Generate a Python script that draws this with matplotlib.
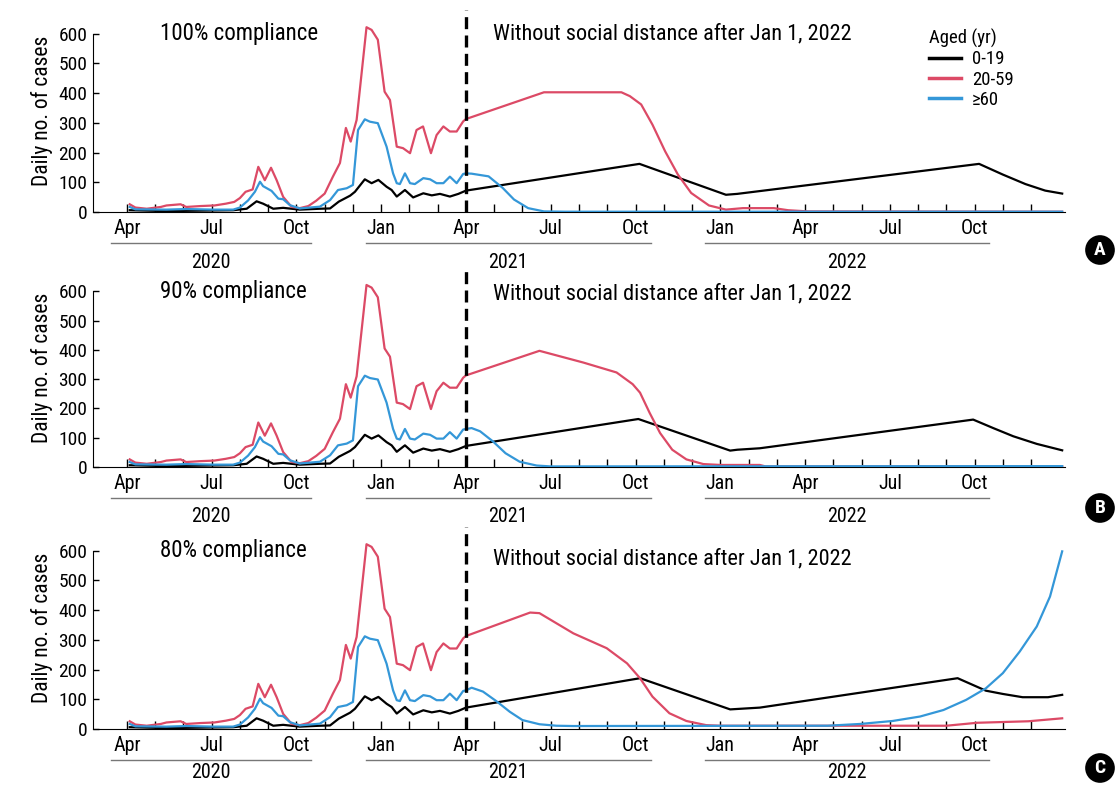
import matplotlib
matplotlib.use('Agg')
import matplotlib.pyplot as plt
import matplotlib.transforms as mtransforms
from matplotlib.lines import Line2D
from matplotlib import font_manager

# pick a condensed face if one is installed
fonts = font_manager.fontManager.ttflist
names = {f.name for f in fonts}
stretch = 'normal'
if 'Liberation Sans Narrow' in names:
    fam = 'Liberation Sans Narrow'
elif 'Roboto Condensed' in names:
    fam = 'Roboto Condensed'
elif any(f.name == 'DejaVu Sans' and f.stretch == 'condensed' for f in fonts):
    fam = 'DejaVu Sans'
    stretch = 'condensed'
else:
    fam = 'Liberation Sans'
plt.rcParams['font.family'] = [fam, 'DejaVu Sans']
plt.rcParams['font.stretch'] = stretch

# x = months since Jan 1, 2020 (Apr 2020 = 3)
# ---- observed period (same in all panels), up to Apr 2021
hist_adult_m = [3.1, 3.3, 3.7, 4.2, 4.4, 4.9, 5.1, 5.6, 6.1, 6.5, 6.8, 7.0, 7.2, 7.45, 7.65,
                7.88, 8.1, 8.3, 8.53, 8.83, 9.12, 9.42, 9.7, 10.0, 10.29, 10.54, 10.75, 10.92,
                11.13, 11.48, 11.66, 11.88, 12.12, 12.31, 12.55, 12.77, 13.02, 13.25, 13.48,
                13.76, 13.96, 14.2, 14.43, 14.67, 14.9, 15.0]
hist_adult = [26, 15, 11, 17, 22, 26, 17, 20, 22, 28, 34, 47, 68, 76, 152,
              107, 149, 107, 51, 17, 13, 20, 38, 62, 119, 165, 283, 237,
              310, 622, 613, 580, 405, 377, 220, 215, 198, 276, 288,
              198, 259, 288, 271, 271, 305, 313]

hist_old_m = [3.1, 3.3, 4.4, 5.1, 6.06, 6.76, 7.0, 7.29, 7.53, 7.71, 7.82, 8.12, 8.36, 8.53,
              8.77, 9.12, 9.83, 10.19, 10.47, 10.78, 11.0, 11.18, 11.42, 11.6, 11.88, 12.19,
              12.42, 12.55, 12.66, 12.84, 13.02, 13.19, 13.49, 13.73, 13.96, 14.2, 14.43,
              14.67, 14.9, 15.0]
hist_old = [17, 9, 8, 10, 8, 8, 15, 39, 68, 102, 87, 71, 45, 43,
            23, 12, 18, 40, 74, 80, 91, 276, 312, 304, 299, 220,
            130, 97, 94, 130, 97, 94, 114, 110, 97, 97, 119,
            97, 128, 130]

hist_young_m = [3.1, 4.4, 6.76, 7.24, 7.59, 7.82, 8.18, 8.53, 9.12, 9.83, 10.19, 10.5, 10.9,
                11.07, 11.42, 11.66, 11.9, 12.19, 12.37, 12.55, 12.84, 13.13, 13.49, 13.79,
                14.08, 14.43, 14.73, 15.0]
hist_young = [6, 3, 6, 11, 36, 28, 11, 14, 8, 11, 12, 35, 55,
              68, 110, 97, 108, 85, 74, 52, 74, 49, 63, 56,
              61, 52, 61, 72]

# ---- projections after Apr 2021, one set per compliance scenario
a_young_m = [15.0, 21.14, 24.2, 24.6, 33.16, 34.0, 34.8, 35.5, 36.1]
a_young = [72, 162, 58, 61, 162, 126, 94, 72, 62]
a_adult_m = [15.0, 17.76, 20.5, 20.8, 21.2, 21.6, 22.05, 22.5, 22.97, 23.6, 24.2, 24.8,
             25.9, 26.4, 27.1, 36.1]
a_adult = [313, 403, 403, 390, 362, 294, 204, 126, 64, 22, 8, 13, 13, 6, 2, 1]
a_old_m = [15.0, 15.2, 15.8, 16.3, 16.7, 17.2, 17.76, 18.5, 36.1]
a_old = [130, 129, 120, 81, 42, 13, 2, 1, 1]

b_young_m = [15.0, 21.1, 24.35, 24.6, 25.4, 32.95, 33.66, 34.37, 35.2, 36.1]
b_young = [72, 164, 56, 59, 64, 162, 133, 105, 79, 57]
b_adult_m = [15.0, 17.6, 19.15, 20.33, 20.9, 21.16, 21.5, 21.87, 22.3, 22.8, 23.4, 24.0,
             25.4, 25.6, 36.1]
b_adult = [313, 397, 357, 323, 283, 254, 185, 116, 59, 26, 10, 7, 7, 2, 2]
b_old_m = [15.0, 15.2, 15.5, 15.96, 16.4, 16.9, 17.5, 18.0, 36.1]
b_old = [130, 133, 122, 87, 47, 18, 5, 2, 3]

c_young_m = [15.0, 21.16, 24.35, 25.4, 32.4, 33.4, 34.0, 34.7, 35.6, 36.1]
c_young = [72, 171, 66, 72, 171, 129, 118, 107, 107, 115]
c_adult_m = [15.0, 17.27, 17.6, 18.8, 19.98, 20.7, 21.16, 21.6, 22.2, 22.8, 23.5, 24.0,
             32.0, 33.1, 34.9, 36.1]
c_adult = [313, 392, 390, 322, 272, 221, 171, 109, 53, 27, 13, 11, 11, 21, 26, 36]
c_old_m = [15.0, 15.2, 15.6, 16.1, 16.55, 17.0, 17.6, 18.2, 18.8, 27.8, 28.95, 30.1,
           31.07, 31.9, 32.7, 33.4, 34.0, 34.6, 35.2, 35.67, 36.1]
c_old = [130, 139, 126, 92, 58, 30, 16, 11, 10, 11, 17, 27,
         42, 64, 98, 137, 188, 261, 345, 446, 598]

scenarios = ['100% compliance', '90% compliance', '80% compliance']
panel_letters = ['A', 'B', 'C']
note = 'Without social distance after Jan 1, 2022'
age_groups = ['0-19', '20-59', '\u226560']
month_ticks = list(range(3, 36))
label_ticks = list(range(3, 34, 3))
label_names = ['Apr', 'Jul', 'Oct', 'Jan'] * 2 + ['Apr', 'Jul', 'Oct']
years = ['2020', '2021', '2022']
year_spans = [(2.45, 9.5), (11.45, 21.55), (23.45, 33.5)]

c_young_col = 'black'
c_adult_col = '#dc4a66'
c_old_col = '#3497d8'

proj = [(a_young_m, a_young, a_adult_m, a_adult, a_old_m, a_old),
        (b_young_m, b_young, b_adult_m, b_adult, b_old_m, b_old),
        (c_young_m, c_young, c_adult_m, c_adult, c_old_m, c_old)]

fig = plt.figure(figsize=(11.15, 7.86), dpi=100)
W, H = 1115, 786
# (top px, bottom px) of each panel
boxes = [(10, 212), (268, 467), (527, 729)]
note_y = [598, 593, 572]
letter_y = [250, 508, 768]
year_off = [-50, -50, -44]

for i in range(3):
    top, bot = boxes[i]
    ax = fig.add_axes([93 / W, 1 - bot / H, 972 / W, (bot - top) / H])
    ym, yv, am, av, om, ov = proj[i]

    ax.plot(hist_young_m + ym[1:], hist_young + yv[1:], color=c_young_col, lw=1.6, zorder=3)
    ax.plot(hist_adult_m + am[1:], hist_adult + av[1:], color=c_adult_col, lw=1.6, zorder=3)
    ax.plot(hist_old_m + om[1:], hist_old + ov[1:], color=c_old_col, lw=1.6, zorder=4)

    ax.axvline(15, color='black', lw=2.4, dashes=(3.6, 1.9), zorder=5, clip_on=False)

    ax.set_xlim(1.8, 36.2)
    ax.set_ylim(0, 680)
    ax.set_yticks(range(0, 700, 100))
    ax.set_xticks(label_ticks)
    ax.set_xticklabels(label_names)
    ax.set_xticks(month_ticks, minor=True)
    ax.tick_params(axis='x', which='both', direction='in', length=6, width=1, pad=5,
                   labelsize=14.5)
    ax.tick_params(axis='y', direction='in', length=4, width=1, pad=4, labelsize=14)
    for s in ['top', 'right']:
        ax.spines[s].set_visible(False)
    ax.spines['left'].set_bounds(0, 600)
    ax.set_ylabel('Daily no. of cases', fontsize=15.5, labelpad=4)

    ax.text(4.17, 600, scenarios[i], fontsize=16.5, va='center', ha='left')
    ax.text(15.96, note_y[i], note, fontsize=16, va='center', ha='left')

    line_tr = mtransforms.offset_copy(ax.get_xaxis_transform(), fig=fig, y=-31, units='dots')
    text_tr = mtransforms.offset_copy(ax.get_xaxis_transform(), fig=fig, y=year_off[i],
                                      units='dots')
    for yr, (x0, x1) in zip(years, year_spans):
        ax.plot([x0, x1], [0, 0], color='#777777', lw=1, transform=line_tr, clip_on=False)
        ax.text((x0 + x1) / 2, 0, yr, transform=text_tr, ha='center', va='center',
                fontsize=14.5)

    fig.text(1100 / W, 1 - letter_y[i] / H, panel_letters[i], ha='center', va='center',
             color='white', fontsize=14, fontweight='bold',
             bbox=dict(boxstyle='circle,pad=0.3', fc='black', ec='none'))

    if i == 0:
        handles = [Line2D([], [], color=c_young_col, lw=2.5),
                   Line2D([], [], color=c_adult_col, lw=2.5),
                   Line2D([], [], color=c_old_col, lw=2.5)]
        leg = ax.legend(handles, age_groups, title='Aged (yr)', frameon=False,
                        fontsize=13.5, title_fontsize=13.5, handlelength=1.7,
                        labelspacing=0.12, handletextpad=0.6,
                        loc='upper left', bbox_to_anchor=(912 / W, 1 - 12 / H),
                        bbox_transform=fig.transFigure)
        leg._legend_box.align = 'left'

fig.savefig('out.png', dpi=100)
